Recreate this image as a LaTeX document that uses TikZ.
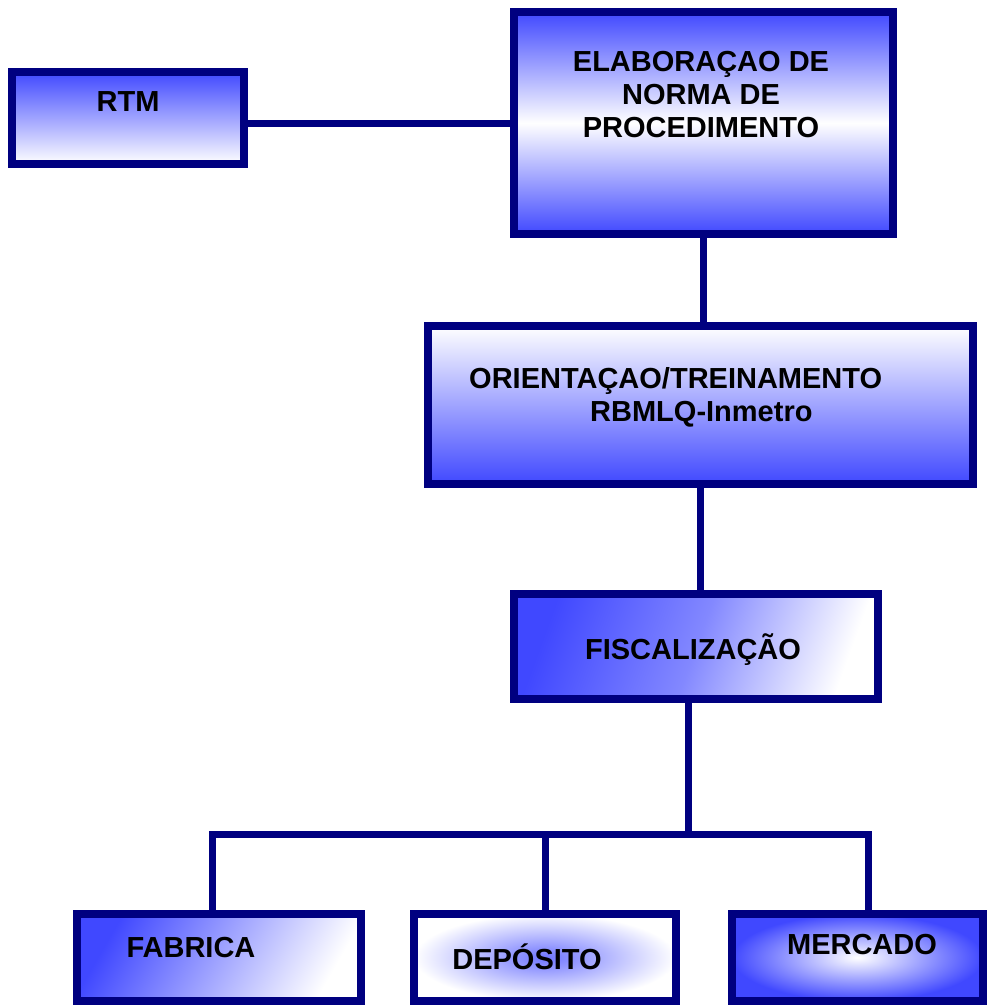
\documentclass[tikz,border=0pt]{standalone}
\usepackage{fontspec}
\setmainfont{Liberation Sans}
\usetikzlibrary{positioning,calc}
\definecolor{boxblue}{RGB}{64,72,255}
\definecolor{boxline}{RGB}{0,0,128}

\begin{document}
\begin{tikzpicture}[
		x=1pt,y=-1pt,
		box/.style={
			draw=boxline,
			line width=8pt,
			inner sep=0pt,
			rectangle
		},
		txt/.style={
			font=\fontsize{29}{33}\selectfont\bfseries,
			inner sep=0pt
		},
		link/.style={
			draw=boxline,
			line width=7pt
		}
		]
		\useasboundingbox (0,0) rectangle (987,1007);

		\node[box,minimum width=232pt,minimum height=92pt,top color=boxblue,bottom color=white] (rtm) at (128,118) {};
		\node[box,minimum width=379pt,minimum height=222pt,top color=boxblue,bottom color=boxblue,middle color=white] (elab) at (703.5,123) {};
		\node[box,minimum width=545pt,minimum height=158pt,top color=white,bottom color=boxblue] (orient) at (700.5,405) {};
		\node[box,minimum width=364pt,minimum height=105pt,left color=boxblue,right color=white,middle color=boxblue!65!white,shading angle=70] (fisc) at (696,646.5) {};
		\node[box,minimum width=284pt,minimum height=87pt,left color=boxblue,right color=white,shading angle=60] (fab) at (219,957.5) {};
		\node[box,minimum width=262pt,minimum height=87pt,inner color=boxblue!75!white,outer color=white] (dep) at (545,957.5) {};
		\node[box,minimum width=251pt,minimum height=87pt,inner color=white,outer color=boxblue] (mer) at (857.5,957.5) {};

		\node[txt] (rtmtxt) at (128,102) {RTM};
		\node[txt,align=center] (elabtxt) at (701,95) {ELABORAÇAO DE\\NORMA DE\\PROCEDIMENTO};
		\node[txt,align=left,anchor=west] (orienttxt) at (469,397) {ORIENTAÇAO/TREINAMENTO\\\hspace*{121pt}RBMLQ-Inmetro};
		\node[txt] (fisctxt) at (693,650) {FISCALIZAÇÃO};
		\node[txt] (fabtxt) at (191,948) {FABRICA};
		\node[txt] (deptxt) at (527,957) {DEPÓSITO};
		\node[txt] (mertxt) at (862,945) {MERCADO};

		\draw[link] (rtm.east |- elab.west) -- (elab.west);
		\draw[link] (elab.south) -- (elab.south |- orient.north);
		\draw[link] (orient.south) -- (orient.south |- fisc.north);

		\coordinate (bus) at (688,834);
		\coordinate (busl) at (212,834);
		\coordinate (busr) at (868,834);
		\draw[link] (fisc.south -| bus) -- (bus);
		\draw[link] (busl |- fab.north) -- (busl) -- (busr) -- (busr |- mer.north);
		\draw[link] (dep.north) -- (dep.north |- bus);
		\end{tikzpicture}
\end{document}
